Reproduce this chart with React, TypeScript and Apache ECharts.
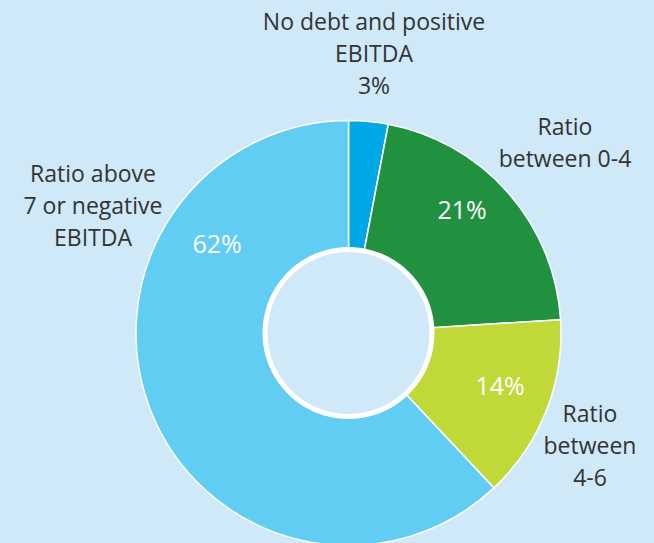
import React, { useEffect, useRef } from "react";
import * as echarts from "echarts";

const categories = [
  "No debt and positive\nEBITDA",
  "Ratio\nbetween 0-4",
  "Ratio\nbetween\n4-6",
  "Ratio above\n7 or negative\nEBITDA",
];
const values = [3, 21, 14, 62];
const colors = ["#00a9e6", "#21913f", "#c1d839", "#62cdf3"];

// label placement (pixel centres) for outer and inner labels
const outerLabelPos = [
  [374, 53],
  [565, 142],
  [590, 445],
  [93, 205],
];
const innerLabelPos = [
  [0, 0],
  [462, 209],
  [500, 385],
  [217, 243],
];

export default function App() {
  const ref = useRef<HTMLDivElement>(null);
  useEffect(() => {
    document.body.style.margin = "0";
    const chart = echarts.init(ref.current!, null, { renderer: "svg" });
    const data = categories.map((name, i) => ({
      name,
      value: values[i],
      itemStyle: { color: colors[i] },
    }));
    const font = "'Open Sans', 'Noto Sans', sans-serif";
    chart.setOption({
      animation: false,
      backgroundColor: "#cfe9f9",
      series: [
        {
          type: "pie",
          center: [348.5, 333],
          radius: [84, 212.5],
          startAngle: 90,
          clockwise: true,
          silent: true,
          data,
          itemStyle: { borderColor: "#ffffff", borderWidth: 1.5 },
          label: {
            show: true,
            position: "inside",
            color: "#ffffff",
            fontFamily: font,
            fontSize: 25,
            overflow: "none",
            formatter: (p: any) => (p.dataIndex === 0 ? "" : p.value + "%"),
          },
          labelLine: { show: false },
          labelLayout: (p: any) => ({
            x: innerLabelPos[p.dataIndex][0],
            y: innerLabelPos[p.dataIndex][1],
            align: "center",
            verticalAlign: "middle",
          }),
        },
        {
          type: "pie",
          center: [348.5, 333],
          radius: [84, 212.5],
          startAngle: 90,
          clockwise: true,
          silent: true,
          data: categories.map((name, i) => ({ name, value: values[i] })),
          itemStyle: { color: "transparent", borderWidth: 0 },
          label: {
            show: true,
            position: "outside",
            color: "#333333",
            fontFamily: font,
            fontSize: 23,
            lineHeight: 32,
            align: "center",
            overflow: "none",
            formatter: (p: any) =>
              p.dataIndex === 0 ? p.name + "\n" + p.value + "%" : p.name,
          },
          labelLine: { show: false },
          labelLayout: (p: any) => ({
            x: outerLabelPos[p.dataIndex][0],
            y: outerLabelPos[p.dataIndex][1],
            align: "center",
            verticalAlign: "middle",
          }),
        },
        {
          type: "pie",
          center: [348.5, 333],
          radius: [81, 86],
          silent: true,
          data: [{ name: "ring", value: 1 }],
          itemStyle: { color: "#ffffff" },
          label: { show: false },
          labelLine: { show: false },
        },
      ],
    });
    return () => chart.dispose();
  }, []);
  return <div ref={ref} style={{ width: 654, height: 543 }} />;
}
